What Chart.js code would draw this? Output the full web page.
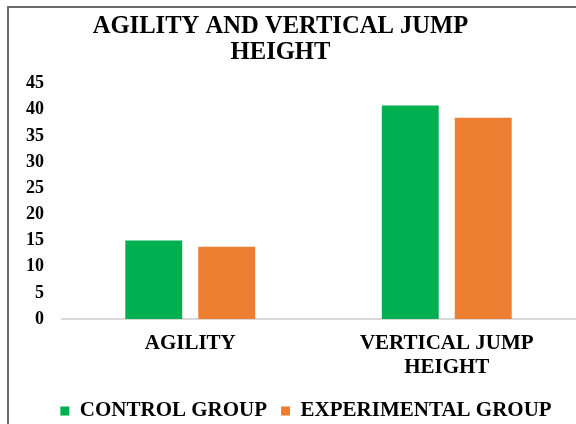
<!DOCTYPE html>
<html>
<head>
<meta charset="utf-8">
<script src="https://cdn.jsdelivr.net/npm/chart.js@4/dist/chart.umd.min.js"></script>
<style>
  html, body { margin: 0; padding: 0; background: #ffffff; }
  #wrap { position: relative; width: 576px; height: 424px; overflow: hidden; }
  #frame {
    position: absolute; left: 7px; top: 6px; width: 700px; height: 600px;
    border-top: 2px solid #6b6b6b; border-left: 2px solid #6b6b6b;
    pointer-events: none; z-index: 2;
  }
  canvas { position: absolute; left: 0; top: 0; }
</style>
</head>
<body>
<div id="wrap">
  <div id="frame"></div>
  <canvas id="chart" width="576" height="424"></canvas>
</div>
<script>
// Test categories and group means
const categories = ['AGILITY', ['VERTICAL JUMP', 'HEIGHT']];
const controlGroup = [15.0, 40.8];
const experimentalGroup = [13.8, 38.5];
const yTicks = [0, 5, 10, 15, 20, 25, 30, 35, 40, 45];

const serif = "'Liberation Serif', 'Times New Roman', serif";
const CANVAS_H = 424;
const PLOT_BOTTOM = 319;      // pixel row of the zero line
const LEGEND_TEXT_Y = 408;    // vertical centre of the legend row
const LEGEND_ROW_OFFSET = 21.5;
const LEGEND_PAD = 14;
const LEGEND_FONT = 21;

// Nudges the title and legend blocks into place after layout
const blockShift = {
  id: 'blockShift',
  afterLayout(chart) {
    if (chart.titleBlock) {
      chart.titleBlock.left -= 7;
      chart.titleBlock.right -= 7;
    }
    const lg = chart.legend;
    if (lg) {
      lg.left += 18.5;
      lg.right += 18.5;
      const d = LEGEND_TEXT_Y - (lg.top + LEGEND_ROW_OFFSET);
      lg.top += d;
      lg.bottom += d;
    }
  }
};

new Chart(document.getElementById('chart'), {
  type: 'bar',
  data: {
    labels: categories,
    datasets: [
      {
        label: 'CONTROL GROUP',
        data: controlGroup,
        backgroundColor: '#00B050',
        categoryPercentage: 0.569,
        barPercentage: 0.78
      },
      {
        label: 'EXPERIMENTAL GROUP',
        data: experimentalGroup,
        backgroundColor: '#ED7D31',
        categoryPercentage: 0.569,
        barPercentage: 0.78
      }
    ]
  },
  options: {
    responsive: false,
    animation: false,
    devicePixelRatio: 1,
    layout: { padding: { left: 0, right: 1, top: 0, bottom: 0 } },
    plugins: {
      title: {
        display: true,
        text: ['AGILITY AND VERTICAL JUMP', 'HEIGHT'],
        color: '#000000',
        font: { family: serif, size: 24.6, weight: 'bold', lineHeight: 1.08 },
        padding: { top: 13, bottom: 17.5 }
      },
      legend: {
        display: true,
        position: 'bottom',
        labels: {
          color: '#000000',
          font: { family: serif, size: LEGEND_FONT, weight: 'bold' },
          boxWidth: 9,
          boxHeight: 9,
          padding: LEGEND_PAD
        }
      },
      tooltip: { enabled: false }
    },
    scales: {
      x: {
        afterFit(scale) {
          const lh = scale.chart.legend ? scale.chart.legend.height : 0;
          scale.height = CANVAS_H - PLOT_BOTTOM - lh;
        },
        grid: { display: false, drawTicks: false },
        border: { display: true, color: '#d9d9d9', width: 2 },
        ticks: {
          color: '#000000',
          font: { family: serif, size: 21, weight: 'bold', lineHeight: 1.12 },
          padding: 13.25,
          maxRotation: 0,
          autoSkip: false
        }
      },
      y: {
        min: 0,
        max: 45,
        afterBuildTicks(scale) {
          scale.ticks = yTicks.map(v => ({ value: v }));
        },
        afterFit(scale) { scale.width = 62; },
        grid: { display: false, drawTicks: false },
        border: { display: false },
        ticks: {
          color: '#000000',
          font: { family: serif, size: 18, weight: 'bold' },
          padding: 18
        }
      }
    }
  },
  plugins: [blockShift]
});
</script>
</body>
</html>
